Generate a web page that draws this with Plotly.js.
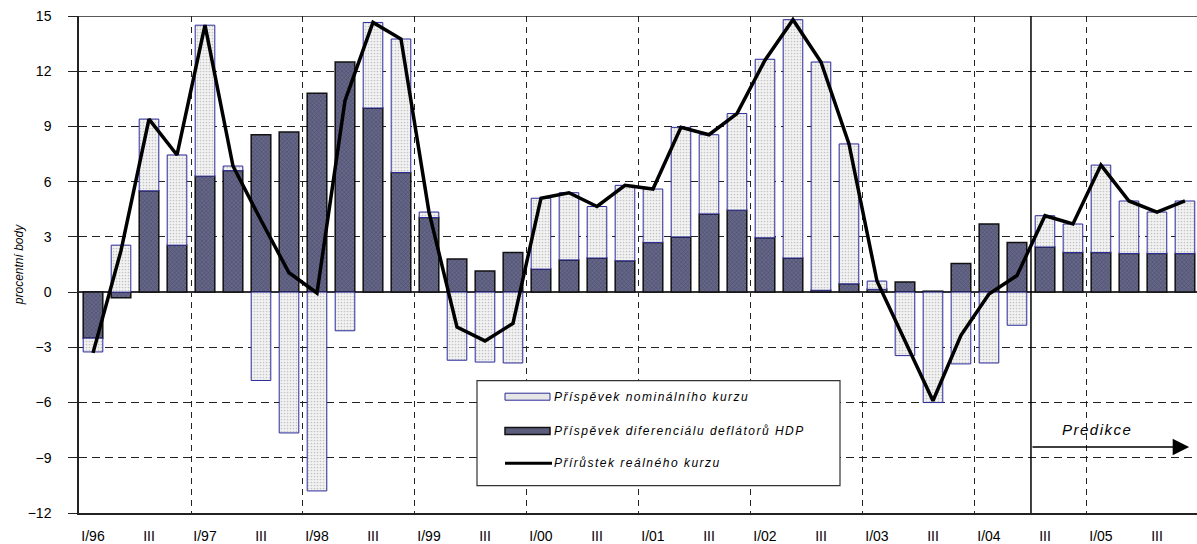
<!DOCTYPE html>
<html>
<head>
<meta charset="utf-8">
<script src="https://cdn.plot.ly/plotly-3.0.1.min.js"></script>
<style>
  body { margin: 0; background: white; }
  #graph { width: 1197px; height: 544px; }
  .annotation-text { letter-spacing: 1.5px; }
</style>
</head>
<body>
<div id="graph"></div>
<script>
// quarters I/96 .. IV/05
const quarters = [
    'I/96', 'II/96', 'III/96', 'IV/96', 'I/97', 'II/97', 'III/97', 'IV/97',
    'I/98', 'II/98', 'III/98', 'IV/98', 'I/99', 'II/99', 'III/99', 'IV/99',
    'I/00', 'II/00', 'III/00', 'IV/00', 'I/01', 'II/01', 'III/01', 'IV/01',
    'I/02', 'II/02', 'III/02', 'IV/02', 'I/03', 'II/03', 'III/03', 'IV/03',
    'I/04', 'II/04', 'III/04', 'IV/04', 'I/05', 'II/05', 'III/05', 'IV/05',
];

const tickLabels = [
    'I/96', 'III', 'I/97', 'III', 'I/98', 'III', 'I/99', 'III', 'I/00', 'III',
    'I/01', 'III', 'I/02', 'III', 'I/03', 'III', 'I/04', 'III', 'I/05', 'III',
];

// Příspěvek diferenciálu deflátorů HDP
const deflatorDiff = [
    -2.5, -0.3, 5.5, 2.55, 6.3, 6.6, 8.55, 8.7,
    10.8, 12.5, 10.0, 6.5, 4.05, 1.8, 1.15, 2.15,
    1.25, 1.75, 1.85, 1.7, 2.7, 3.0, 4.25, 4.45,
    2.95, 1.85, 0.1, 0.45, 0.15, 0.55, 0.05, 1.55,
    3.7, 2.7, 2.45, 2.15, 2.15, 2.1, 2.1, 2.1,
];

// Příspěvek nominálního kurzu
const nominalRate = [
    -0.75, 2.55, 3.9, 4.9, 8.2, 0.25, -4.8, -7.65,
    -10.8, -2.1, 4.65, 7.25, 0.3, -3.7, -3.8, -3.85,
    3.85, 3.65, 2.8, 4.1, 2.9, 5.95, 4.3, 5.25,
    9.7, 12.95, 12.4, 7.6, 0.45, -3.45, -6.0, -3.9,
    -3.85, -1.8, 1.7, 1.55, 4.75, 2.85, 2.25, 2.85,
];

// Přírůstek reálného kurzu
const realRate = [
    -3.3, 2.25, 9.4, 7.45, 14.5, 6.85, 3.9, 1.05,
    -0.05, 10.4, 14.65, 13.75, 4.35, -1.9, -2.65, -1.7,
    5.1, 5.4, 4.65, 5.8, 5.6, 8.95, 8.55, 9.7,
    12.6, 14.8, 12.5, 8.05, 0.6, -2.7, -5.9, -2.35,
    -0.1, 0.9, 4.15, 3.7, 6.9, 4.95, 4.35, 4.95,
];

const legendNames = [
    'Příspěvek nominálního kurzu',
    'Příspěvek diferenciálu deflátorů HDP',
    'Přírůstek reálného kurzu',
];

const predictionStart = 33.5; // between II/04 and III/04

const xs = quarters.map((_, i) => i);
const tickPos = tickLabels.map((_, i) => i * 2);

const margin = { l: 79, r: 0, t: 16, b: 31 };
const W = 1197, H = 544;
// pixel -> paper helpers for the hand-made legend
const px = x => (x - margin.l) / (W - margin.l - margin.r);
const py = y => (H - margin.b - y) / (H - margin.t - margin.b);

const fontFam = '"Liberation Sans", Arial, sans-serif';

const deflator_trace = {
    x: xs,
    y: deflatorDiff,
    type: 'bar',
    name: legendNames[1],
    width: 0.7,
    marker: {
        color: '#5c5c7c',
        line: { color: '#111111', width: 1.5 },
        pattern: { shape: 'x', fgcolor: '#40405e', bgcolor: '#666688', size: 3, solidity: 0.25 },
    },
    hoverinfo: 'y',
};

const nominal_trace = {
    x: xs,
    y: nominalRate,
    type: 'bar',
    name: legendNames[0],
    width: 0.7,
    marker: {
        color: '#eeeeee',
        line: { color: '#2a2a9a', width: 1 },
        pattern: { shape: '.', fgcolor: '#c4c4c4', bgcolor: '#f3f3f3', size: 3, solidity: 0.25 },
    },
    hoverinfo: 'y',
};

const real_trace = {
    x: xs,
    y: realRate,
    type: 'scatter',
    mode: 'lines',
    name: legendNames[2],
    line: { color: '#000000', width: 3.5 },
    hoverinfo: 'y',
};

// legend box, swatches and texts
const rows = [396.7, 431, 463.3];
const shapes = [
    // top frame
    { type: 'line', xref: 'paper', yref: 'y', x0: 0, x1: 1, y0: 15, y1: 15, line: { color: '#222', width: 1.5 } },
    // start of prediction
    { type: 'line', xref: 'x', yref: 'y', x0: predictionStart, x1: predictionStart, y0: -12, y1: 15, line: { color: '#000', width: 1.5 } },
    // legend frame
    { type: 'rect', xref: 'paper', yref: 'paper', x0: px(477), x1: px(840), y0: py(485.7), y1: py(380.7),
      fillcolor: 'white', line: { color: '#333', width: 1.2 }, layer: 'above' },
    { type: 'rect', xref: 'paper', yref: 'paper', x0: px(505), x1: px(550), y0: py(rows[0] + 3.5), y1: py(rows[0] - 3.5),
      fillcolor: '#e6e6e6', line: { color: '#2a2a9a', width: 1 }, layer: 'above' },
    { type: 'rect', xref: 'paper', yref: 'paper', x0: px(505), x1: px(550), y0: py(rows[1] + 3.5), y1: py(rows[1] - 3.5),
      fillcolor: '#5c5c7c', line: { color: '#111', width: 1.5 }, layer: 'above' },
    { type: 'line', xref: 'paper', yref: 'paper', x0: px(505), x1: px(552), y0: py(rows[2]), y1: py(rows[2]),
      line: { color: '#000', width: 3 }, layer: 'above' },
];

const annotations = legendNames.map((name, i) => ({
    xref: 'paper', yref: 'paper', x: px(552), y: py(rows[i]),
    xanchor: 'left', yanchor: 'middle', showarrow: false,
    text: name,
    font: { family: fontFam, size: 12, style: 'italic', color: '#000' },
}));

annotations.push({
    xref: 'x', yref: 'y', x: 35.85, y: -7.45,
    xanchor: 'center', yanchor: 'middle', showarrow: false,
    text: 'Predikce',
    font: { family: fontFam, size: 15, style: 'italic', color: '#000' },
});
annotations.push({
    xref: 'x', yref: 'y', axref: 'x', ayref: 'y',
    x: 39.15, y: -8.42, ax: predictionStart, ay: -8.42,
    text: '', showarrow: true, arrowhead: 2, arrowsize: 2.2, arrowwidth: 1.5, arrowcolor: '#000', standoff: 0,
});

const layout = {
    barmode: 'relative',
    showlegend: false,
    plot_bgcolor: 'white',
    paper_bgcolor: 'white',
    width: W,
    height: H,
    margin: margin,
    font: { family: fontFam, size: 13, color: '#000' },
    xaxis: {
        range: [-0.5, 39.43],
        tickvals: tickPos,
        ticktext: tickLabels,
        showgrid: false,
        zeroline: false,
        showline: true,
        linecolor: '#222',
        linewidth: 1.5,
        ticks: '',
        ticklabelstandoff: 9,
        tickfont: { family: fontFam, size: 14 },
        minor: { tick0: -0.5, dtick: 4, showgrid: true, gridcolor: '#222', gridwidth: 1, griddash: '6px,5px', ticks: '' },
    },
    yaxis: {
        range: [-12, 15],
        tickvals: [-12, -9, -6, -3, 0, 3, 6, 9, 12, 15],
        showgrid: true,
        gridcolor: '#222',
        gridwidth: 1,
        griddash: '8px,5px',
        zeroline: true,
        zerolinecolor: '#333',
        zerolinewidth: 1.5,
        showline: true,
        linecolor: '#222',
        linewidth: 1.5,
        ticks: 'outside',
        ticklen: 9,
        tickcolor: '#222',
        ticklabelstandoff: 14,
        tickfont: { family: fontFam, size: 14 },
        title: {
            text: 'procentní body',
            font: { family: fontFam, size: 12, style: 'italic' },
            standoff: 2,
        },
    },
    shapes: shapes,
    annotations: annotations,
};

const config = { responsive: false, displayModeBar: false };

Plotly.newPlot('graph', [deflator_trace, nominal_trace, real_trace], layout, config);
</script>
</body>
</html>
